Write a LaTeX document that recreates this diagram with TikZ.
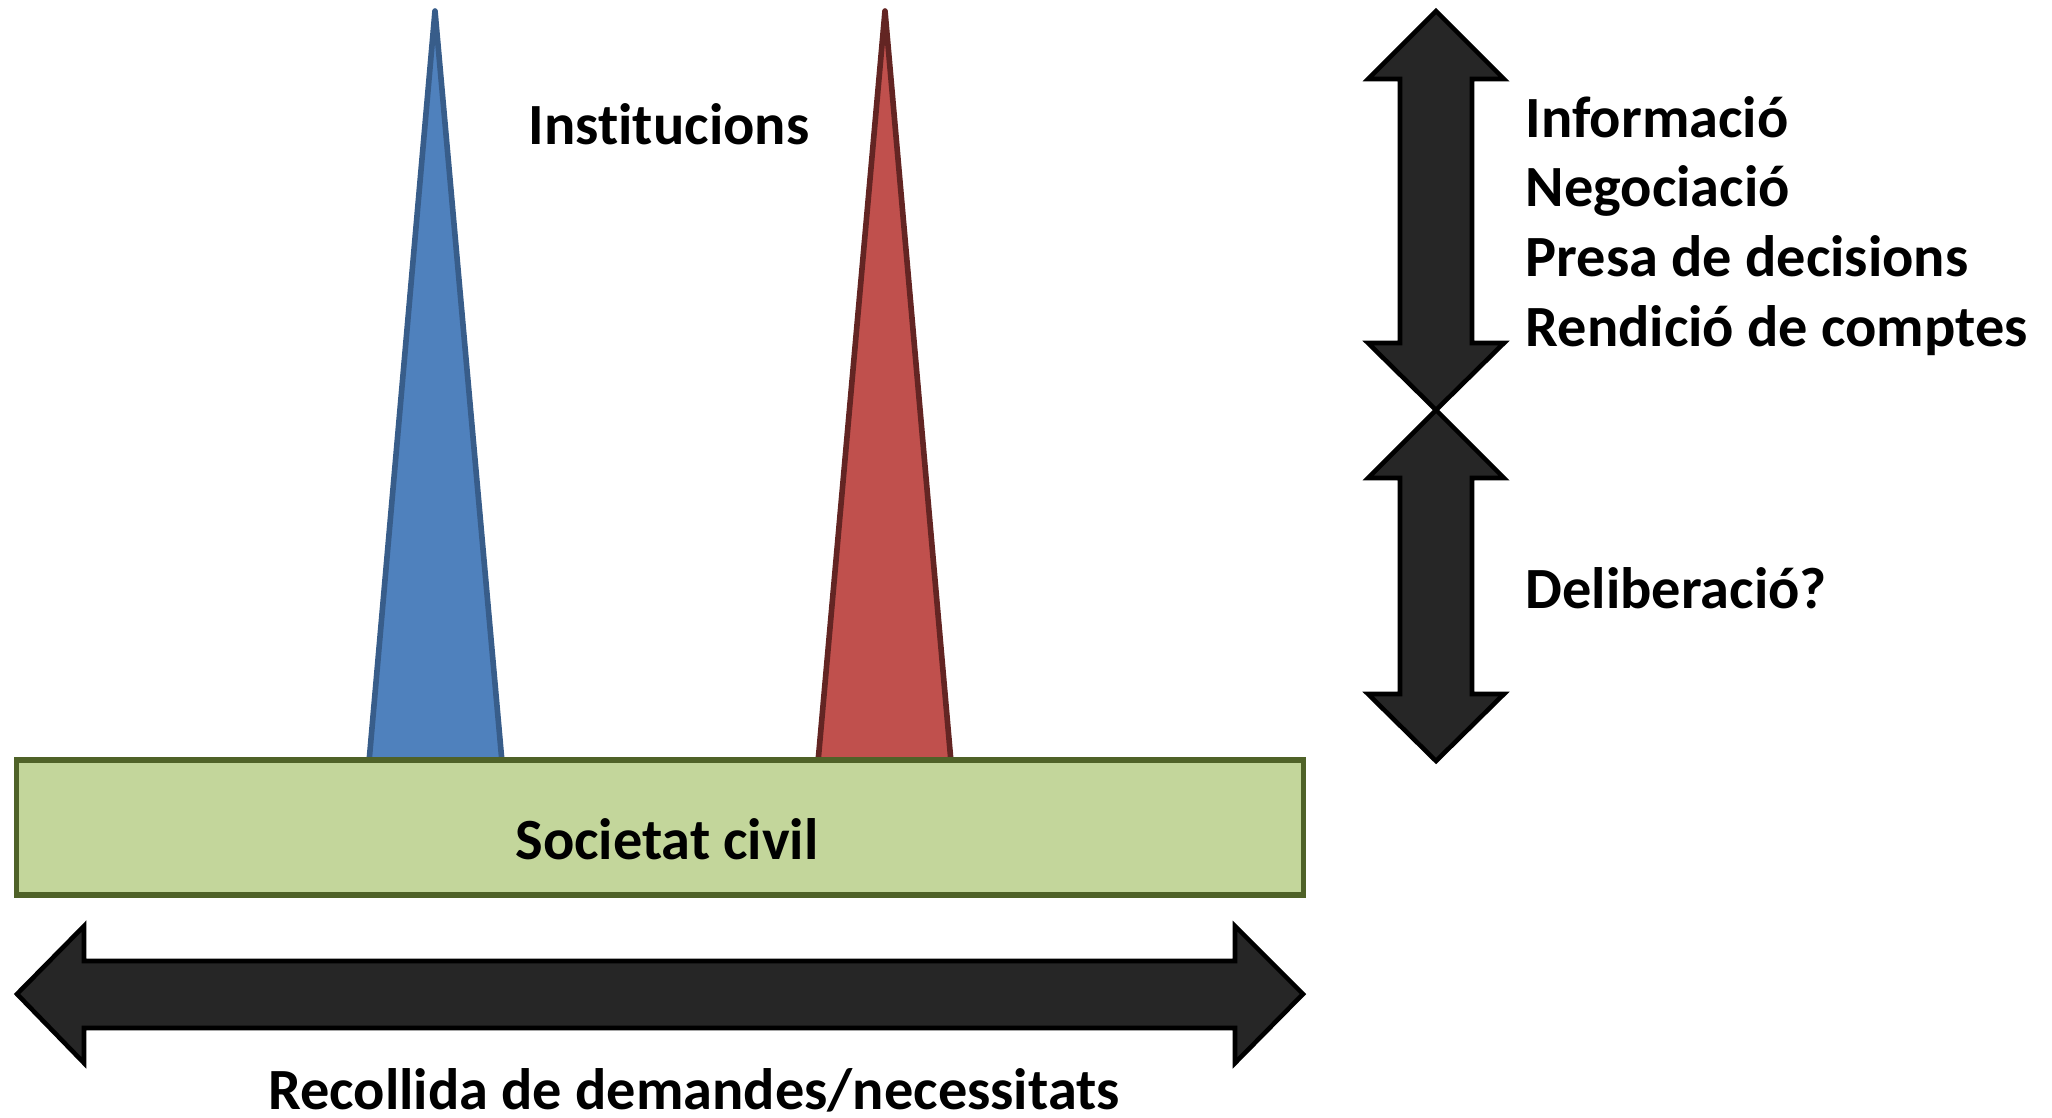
\documentclass[tikz,border=0pt]{standalone}
\usepackage{fontspec}
\setmainfont{Carlito}[Ligatures={NoCommon}]
\usepackage{tikz}
\usetikzlibrary{arrows,shapes,positioning,calc}
\definecolor{instblue}{RGB}{79,129,189}
\definecolor{instblueline}{RGB}{56,93,138}
\definecolor{instred}{RGB}{192,80,77}
\definecolor{instredline}{RGB}{99,37,35}
\definecolor{civgreen}{RGB}{195,214,155}
\definecolor{civgreenline}{RGB}{79,98,40}
\definecolor{arrowgray}{RGB}{38,38,38}

\begin{document}
\begin{tikzpicture}[x=0.01cm,y=-0.01cm,
	peak/.style={line width=1.6pt,line join=round},
	band/.style={rectangle,fill=civgreen,draw=civgreenline,line width=1.5pt,inner sep=0pt,
		minimum width=12.86cm, minimum height=1.35cm},
	fat arrow/.style={fill=arrowgray,draw=black,line width=1.3pt,line join=miter},
	label/.style={font=\fontsize{16.6}{20}\selectfont\bfseries,inner sep=0pt}]

	\useasboundingbox (0,0) rectangle (2052,1117);

	% the two institutions
	\draw[peak,fill=instblue,draw=instblueline] (369,762) -- (435,11) -- (502,762) -- cycle;
	\draw[peak,fill=instred,draw=instredline] (818,762) -- (885,11) -- (951,762) -- cycle;
	\node[label,anchor=base] (inst) at (669,144) {Institucions};

	% civil society
	\node[band] (band) at (660,827.5) {};
	\node[label,anchor=base] (civil) at (667,859) {Societat civil};

	% horizontal arrow
	\draw[fat arrow] (17,994) -- (84,926) -- (84,961) -- (1235,961) -- (1235,926) -- (1303,994)
		-- (1235,1063) -- (1235,1028) -- (84,1028) -- (84,1063) -- cycle;
	\node[label,anchor=base] (recull) at (694,1109) {Recollida de demandes/necessitats};

	% vertical arrows
	\foreach \t/\b in {11/410, 410/761}{
		\draw[fat arrow] (1436,\t) -- (1504,\t+68) -- (1472,\t+68) -- (1472,\b-67) -- (1504,\b-67)
			-- (1436,\b) -- (1368,\b-67) -- (1400,\b-67) -- (1400,\t+68) -- (1368,\t+68) -- cycle;
	}
	\node[label,anchor=base west] (info) at (1525,137) {Informació};
	\node[label,anchor=base west] (nego) at (1525,206) {Negociació};
	\node[label,anchor=base west] (presa) at (1525,276) {Presa de decisions};
	\node[label,anchor=base west] (rend) at (1525,346) {Rendició de comptes};
	\node[label,anchor=base west] (delib) at (1525,608) {Deliberació?};

\end{tikzpicture}
\end{document}
